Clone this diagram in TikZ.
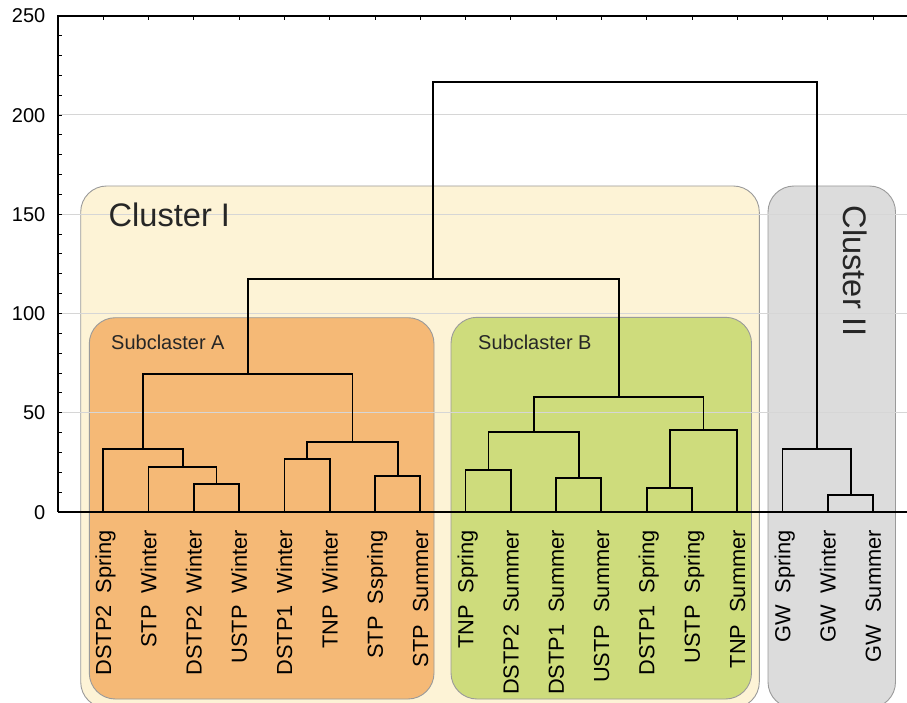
\documentclass[tikz,border=0pt]{standalone}
\usepackage{fontspec}
\setmainfont{Liberation Sans}
\definecolor{cIfill}{HTML}{FDF3D6}
\definecolor{cAfill}{HTML}{F5B976}
\definecolor{cBfill}{HTML}{CEDC7C}
\definecolor{cIIfill}{HTML}{DCDCDC}
\definecolor{boxline}{HTML}{9A9A9A}
\definecolor{gridc}{HTML}{D6D6D6}
\definecolor{txt}{HTML}{262626}
\tikzset{
  clusterbox/.style={draw=boxline, line width=0.9pt, rounded corners=26pt},
  dend/.style={draw=black, line width=1.8pt, line join=miter},
  axisline/.style={draw=black, line width=1.1pt},
  tickmark/.style={draw=black, line width=0.9pt},
  gridline/.style={draw=gridc, line width=1pt},
  leaflab/.style={rotate=90, anchor=east, inner sep=0pt, font=\fontsize{21.8}{21.8}\selectfont, text=black, text height=15.6pt, text depth=0pt},
  ylab/.style={anchor=east, inner sep=0pt, font=\fontsize{20}{20}\selectfont, text=black, text height=14.3pt, text depth=0pt},
  biglab/.style={inner sep=0pt, font=\fontsize{32.6}{32.6}\selectfont, text=txt},
  sublab/.style={inner sep=0pt, font=\fontsize{20}{20}\selectfont, text=txt}
}
\begin{document}
\begin{tikzpicture}[x=1pt,y=-1pt]
\useasboundingbox (0,0) rectangle (907,703);
\clip (0,0) rectangle (907,703);
% cluster boxes
\path[clusterbox, fill=cIfill] (80.7,186) rectangle (759.3,708);
\path[clusterbox, fill=cIIfill] (768,186) rectangle (895.5,708);
\path[clusterbox, fill=cAfill] (89.3,317.7) rectangle (434,699);
\path[clusterbox, fill=cBfill] (451,317.3) rectangle (751.5,699);
% grid
\foreach \v in {50,100,150,200} \draw[gridline] (58,512-\v*1.9852) -- (907,512-\v*1.9852);
% axes
\draw[axisline] (58,512) -- (58,16) -- (907,16);
\draw[axisline] (58,512) -- (907,512);
\foreach \v in {0,10,...,250} \draw[tickmark] (58,512-\v*1.9852) -- ++(4,0);
\foreach \i in {0,...,17} \draw[tickmark] (103.3+45.28*\i,16) -- ++(0,4);
\foreach \v in {0,50,...,250} \node[ylab] (y\v) at (45.5,512-\v*1.9852) {\v};
% leaves
\foreach \i in {0,...,17} \coordinate (l\i) at (103.3+45.28*\i,512);
% subcluster A
\coordinate (n23) at (216.5,484.3);
\coordinate (n123) at (182.6,467);
\coordinate (n0123) at (143,448.7);
\coordinate (n45) at (307.2,459);
\coordinate (n67) at (397.8,476);
\coordinate (n4567) at (352.5,442);
\coordinate (nA) at (247.7,373.7);
\draw[dend] (l2) |- (n23) -| (l3);
\draw[dend] (l1) |- (n123) -| (n23);
\draw[dend] (l0) |- (n0123) -| (n123);
\draw[dend] (l4) |- (n45) -| (l5);
\draw[dend] (l6) |- (n67) -| (l7);
\draw[dend] (n45) |- (n4567) -| (n67);
\draw[dend] (n0123) |- (nA) -| (n4567);
% subcluster B
\coordinate (n89) at (488.4,469.7);
\coordinate (n1011) at (579,478);
\coordinate (n811) at (533.7,431.7);
\coordinate (n1213) at (669.6,487.7);
\coordinate (n1214) at (703.5,429.7);
\coordinate (nB) at (618.6,397.3);
\draw[dend] (l8) |- (n89) -| (l9);
\draw[dend] (l10) |- (n1011) -| (l11);
\draw[dend] (n89) |- (n811) -| (n1011);
\draw[dend] (l12) |- (n1213) -| (l13);
\draw[dend] (n1213) |- (n1214) -| (l14);
\draw[dend] (n811) |- (nB) -| (n1214);
% cluster I
\coordinate (nI) at (433.1,279);
\draw[dend] (nA) |- (nI) -| (nB);
% cluster II
\coordinate (n1617) at (850.8,494.7);
\coordinate (nII) at (816.8,449.3);
\draw[dend] (l16) |- (n1617) -| (l17);
\draw[dend] (l15) |- (nII) -| (n1617);
% root
\coordinate (root) at (625,81.7);
\draw[dend] (nI) |- (root) -| (nII);
% leaf labels
\foreach \i/\t in {0/DSTP2~~Spring, 1/STP~~Winter, 2/DSTP2~~Winter, 3/USTP~~Winter,
  4/DSTP1~~Winter, 5/TNP~~Winter, 6/STP~~Sspring, 7/STP~~Summer,
  8/TNP~~Spring, 9/DSTP2~~Summer, 10/DSTP1~~Summer, 11/USTP~~Summer,
  12/DSTP1~~Spring, 13/USTP~~Spring, 14/TNP~~Summer,
  15/GW~~Spring, 16/GW~~Winter, 17/GW~~Summer}
  \node[leaflab] (t\i) at (103.3+45.28*\i,530) {\t};
% cluster labels
\node[biglab, anchor=base west] (cI) at (108.5,226.7) {Cluster I};
\node[biglab, anchor=base west, rotate=-90] (cII) at (843,205.5) {Cluster II};
\node[sublab, anchor=base west] (sA) at (111,349.3) {Subclaster A};
\node[sublab, anchor=base west] (sB) at (478,349) {Subclaster B};
\end{tikzpicture}
\end{document}
